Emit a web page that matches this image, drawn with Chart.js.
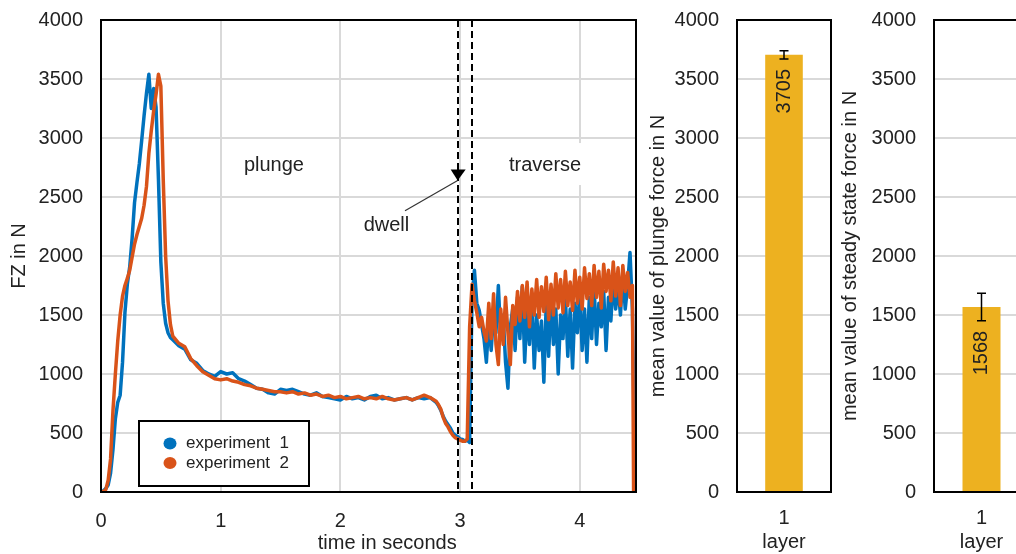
<!DOCTYPE html>
<html>
<head>
<meta charset="utf-8">
<script src="https://cdn.jsdelivr.net/npm/chart.js"></script>
<style>
  html, body { margin: 0; padding: 0; background: #fff; overflow: hidden; width: 1016px; height: 554px; }
  .panel { position: absolute; top: 0; }
</style>
</head>
<body>
<div class="panel" style="left:0px"><canvas id="force-chart" width="650" height="554"></canvas></div>
<div class="panel" style="left:640px"><canvas id="plunge-chart" width="195" height="554"></canvas></div>
<div class="panel" style="left:835px"><canvas id="steady-chart" width="200" height="554"></canvas></div>
<script>
// time axis of both force recordings (s)
const timeSeconds = [
   0, 0.02, 0.04, 0.06, 0.08, 0.1, 0.12, 0.14, 0.16, 0.18, 0.2, 0.22, 0.24, 0.26, 0.28, 0.3,
   0.32, 0.34, 0.36, 0.38, 0.4, 0.42, 0.44, 0.46, 0.48, 0.5, 0.52, 0.54, 0.56, 0.58, 0.6,
   0.65, 0.7, 0.75, 0.8, 0.85, 0.9, 0.95, 1, 1.05, 1.1, 1.15, 1.2, 1.25, 1.3, 1.35, 1.4, 1.45,
   1.5, 1.55, 1.6, 1.65, 1.7, 1.75, 1.8, 1.85, 1.9, 1.95, 2, 2.05, 2.1, 2.15, 2.2, 2.25, 2.3,
   2.35, 2.4, 2.45, 2.5, 2.55, 2.6, 2.65, 2.7, 2.75, 2.8,
   2.82, 2.84, 2.86, 2.88, 2.9, 2.92, 2.94, 2.96, 2.98, 3, 3.02, 3.04, 3.06, 3.08, 3.1, 3.12,
   3.14, 3.16, 3.18, 3.2,
   3.22, 3.24, 3.26, 3.28, 3.3, 3.32, 3.34, 3.36, 3.38, 3.4, 3.42, 3.44, 3.46, 3.48, 3.5, 3.52,
   3.54, 3.56, 3.58, 3.6, 3.62, 3.64, 3.66, 3.68, 3.7, 3.72, 3.74, 3.76, 3.78, 3.8, 3.82, 3.84,
   3.86, 3.88, 3.9, 3.92, 3.94, 3.96, 3.98, 4, 4.02, 4.04, 4.06, 4.08, 4.1, 4.12, 4.14, 4.16,
   4.18, 4.2, 4.22, 4.24, 4.26, 4.28, 4.3, 4.32, 4.34, 4.36, 4.38, 4.4, 4.42, 4.44, 4.45, 4.46
];

// FZ in N, experiment 1
const forceExp1 = [
   0, 10, 30, 60, 160, 360, 620, 760, 820, 1100, 1520, 1760, 1910, 2150, 2450, 2620,
   2780, 2980, 3190, 3380, 3540, 3250, 3420, 3260, 2650, 1950, 1600, 1430, 1350, 1310, 1290,
   1240, 1210, 1120, 1090, 1030, 1000, 980, 1020, 1000, 1010, 960, 940, 910, 880, 870, 840, 830,
   870, 860, 870, 850, 830, 820, 840, 810, 800, 790, 780, 810, 790, 800, 780, 810, 820,
   790, 800, 780, 790, 800, 780, 800, 790, 800, 760,
   730, 690, 640, 600, 570, 540, 500, 480, 470, 450, 445, 430, 440, 420, 1650, 1880,
   1600, 1540, 1420, 1300,
   1100, 1450, 1200, 1500, 1350, 1750, 1300, 1500, 1100, 880, 1400, 1550, 1200, 1650, 1300, 1740,
   1100, 1550, 1250, 1650, 1050, 1500, 1200, 1450, 930, 1600, 1150, 1650, 1250, 1550, 1000, 1500,
   1300, 1650, 1150, 1550, 1050, 1600, 1350, 1700, 1200, 1550, 1100, 1650, 1300, 1750, 1250, 1600,
   1400, 1700, 1200, 1650, 1450, 1800, 1550, 1750, 1500, 1850, 1550, 1750, 2030, 1550, 900, 130
];

// FZ in N, experiment 2
const forceExp2 = [
   0, 5, 20, 100, 280, 690, 1000, 1280, 1500, 1660, 1750, 1810, 1880, 1990, 2100, 2180,
   2250, 2320, 2430, 2590, 2870, 3060, 3230, 3370, 3540, 3440, 2650, 2000, 1620, 1420, 1320,
   1260, 1230, 1130, 1070, 1020, 990, 960, 950, 960, 940, 930, 910, 900, 880, 870, 860, 850,
   850, 840, 850, 830, 840, 820, 830, 810, 820, 800, 810, 790, 800, 810, 790, 800, 790,
   810, 790, 780, 790, 800, 780, 800, 820, 800, 770,
   740, 700, 630, 580, 550, 510, 480, 460, 450, 440, 430, 430, 450, 1400, 1760, 1620,
   1520, 1400, 1480, 1360,
   1280, 1600, 1300, 1680, 1250, 1080, 1550, 1250, 1650, 1350, 1080, 1580, 1420, 1700, 1450, 1750,
   1480, 1780, 1400, 1720, 1500, 1800, 1480, 1740, 1530, 1820, 1460, 1760, 1500, 1850, 1560, 1800,
   1520, 1870, 1580, 1780, 1540, 1880, 1600, 1820, 1550, 1900, 1640, 1850, 1580, 1920, 1650, 1870,
   1560, 1930, 1700, 1880, 1620, 1950, 1660, 1900, 1580, 1920, 1700, 1860, 1650, 1750, 0, 0
];

const seriesNames = ['experiment  1', 'experiment  2'];
const phaseMarks = [2.98, 3.10];   // dwell start / end (s)

const layerLabels = ['1'];
const plungeMean = [3705];
const plungeErr = [35];
const steadyMean = [1568];
const steadyErr = [117];

const FONT = '"Liberation Sans", Arial, sans-serif';
const BLUE = '#0072BD';
const ORANGE = '#D95319';
const BAR = '#EDB120';
const GRID = '#d9d9d9';
const TEXT = '#222';

Chart.defaults.font.family = FONT;
Chart.defaults.font.size = 20;
Chart.defaults.color = TEXT;

function points(values) {
   return timeSeconds.map((t, i) => ({ x: t, y: values[i] }));
}

function plainNumber(value) {
   return String(value);
}

// fixed axis width, no extra room above the plot for the top label
function fixWidth(width) {
   return s => {
      s.width = width;
      s.paddingTop = 0;
      s.paddingBottom = 0;
   };
}

function noteText(ctx, text, px, py, erase) {
   const w = ctx.measureText(text).width;
   if (erase) {
      ctx.fillStyle = '#fff';
      ctx.fillRect(px - w / 2 - 6, py - 28, w + 12, 42);
   }
   ctx.fillStyle = TEXT;
   ctx.fillText(text, px, py);
}

const forceDecor = {
   id: 'forceDecor',
   beforeDatasetsDraw(chart) {
      const { ctx, scales: { x, y } } = chart;
      ctx.save();
      ctx.font = '20px ' + FONT;
      ctx.textAlign = 'center';
      ctx.textBaseline = 'alphabetic';
      noteText(ctx, 'plunge', x.getPixelForValue(1.445), y.getPixelForValue(2720), true);
      noteText(ctx, 'traverse', x.getPixelForValue(3.71), y.getPixelForValue(2720), true);
      ctx.restore();
   },
   afterDatasetsDraw(chart) {
      const { ctx, chartArea, scales: { x, y } } = chart;
      ctx.save();

      // dashed lines around the dwell phase
      ctx.strokeStyle = '#000';
      ctx.lineWidth = 2;
      ctx.setLineDash([7, 4]);
      for (const t of phaseMarks) {
         const px = Math.round(x.getPixelForValue(t));
         ctx.beginPath();
         ctx.moveTo(px, chartArea.top);
         ctx.lineTo(px, chartArea.bottom);
         ctx.stroke();
      }
      ctx.setLineDash([]);

      // arrow "dwell"
      const ax0 = x.getPixelForValue(2.54), ay0 = y.getPixelForValue(2384);
      const ax1 = x.getPixelForValue(phaseMarks[0]), ay1 = y.getPixelForValue(2640);
      ctx.strokeStyle = '#333';
      ctx.lineWidth = 1.2;
      ctx.beginPath();
      ctx.moveTo(ax0, ay0);
      ctx.lineTo(ax1, ay1);
      ctx.stroke();
      ctx.fillStyle = '#000';
      ctx.beginPath();
      ctx.moveTo(ax1, ay1);
      ctx.lineTo(ax1 - 7, ay1 - 11);
      ctx.lineTo(ax1 + 8, ay1 - 11);
      ctx.closePath();
      ctx.fill();

      ctx.font = '20px ' + FONT;
      ctx.textAlign = 'center';
      ctx.textBaseline = 'alphabetic';
      noteText(ctx, 'dwell', x.getPixelForValue(2.385), y.getPixelForValue(2214), false);

      // legend box
      const lx = chartArea.left + 38, ly = chartArea.bottom - 71;
      ctx.fillStyle = '#fff';
      ctx.fillRect(lx, ly, 170, 65);
      ctx.strokeStyle = '#000';
      ctx.lineWidth = 2;
      ctx.strokeRect(lx, ly, 170, 65);
      ctx.font = '17px ' + FONT;
      ctx.textAlign = 'left';
      ctx.textBaseline = 'middle';
      chart.data.datasets.forEach((ds, i) => {
         const cy = ly + 22.5 + i * 19.5;
         ctx.fillStyle = ds.borderColor;
         ctx.beginPath();
         ctx.ellipse(lx + 31, cy, 6.5, 6, 0, 0, 2 * Math.PI);
         ctx.fill();
         ctx.fillStyle = TEXT;
         ctx.fillText(ds.label, lx + 47, cy);
      });

      // frame
      ctx.lineWidth = 2;
      ctx.strokeStyle = '#000';
      ctx.strokeRect(chartArea.left, chartArea.top, chartArea.right - chartArea.left, chartArea.bottom - chartArea.top);
      ctx.restore();
   },
   afterDraw(chart) {
      const { ctx, chartArea } = chart;
      ctx.save();
      ctx.font = '20px ' + FONT;
      ctx.fillStyle = TEXT;
      ctx.textAlign = 'center';
      ctx.textBaseline = 'middle';
      ctx.fillText('time in seconds', chartArea.left + 0.535 * (chartArea.right - chartArea.left), chartArea.bottom + 51);
      ctx.restore();
   }
};

new Chart(document.getElementById('force-chart'), {
   type: 'line',
   data: {
      datasets: [{
         label: seriesNames[0],
         data: points(forceExp1),
         borderColor: BLUE,
         order: 1
      }, {
         label: seriesNames[1],
         data: points(forceExp2),
         borderColor: ORANGE,
         order: 0
      }]
   },
   options: {
      responsive: false,
      animation: false,
      devicePixelRatio: 1,
      layout: { padding: { top: 20, right: 14, left: 0, bottom: 0 } },
      elements: {
         point: { radius: 0 },
         line: { borderWidth: 3.5, tension: 0, fill: false, borderJoinStyle: 'round', borderCapStyle: 'round' }
      },
      plugins: { legend: { display: false }, tooltip: { enabled: false } },
      scales: {
         x: {
            type: 'linear',
            min: 0,
            max: 4.47,
            ticks: { stepSize: 1, includeBounds: false, padding: 17, callback: plainNumber },
            grid: { color: GRID, lineWidth: 2, drawTicks: false },
            border: { display: false },
            afterFit: s => { s.height = 62; }
         },
         y: {
            min: 0,
            max: 4000,
            ticks: { stepSize: 500, padding: 18, callback: plainNumber },
            grid: { color: GRID, lineWidth: 2, drawTicks: false },
            border: { display: false },
            title: { display: true, text: 'FZ in N', padding: { top: 7, bottom: 0 } },
            afterFit: fixWidth(101)
         }
      }
   },
   plugins: [forceDecor]
});

// error bars, rotated value labels and frame for the bar panels
const barDecor = {
   id: 'barDecor',
   afterDatasetsDraw(chart, args, opts) {
      const { ctx, chartArea, scales: { y } } = chart;
      const values = chart.data.datasets[0].data;
      ctx.save();
      chart.getDatasetMeta(0).data.forEach((bar, i) => {
         const hi = y.getPixelForValue(values[i] + opts.errors[i]);
         const lo = y.getPixelForValue(values[i] - opts.errors[i]);
         ctx.strokeStyle = '#000';
         ctx.lineWidth = 1.5;
         ctx.beginPath();
         ctx.moveTo(bar.x, hi);
         ctx.lineTo(bar.x, lo);
         ctx.moveTo(bar.x - 4.5, hi);
         ctx.lineTo(bar.x + 4.5, hi);
         ctx.moveTo(bar.x - 4.5, lo);
         ctx.lineTo(bar.x + 4.5, lo);
         ctx.stroke();

         ctx.save();
         ctx.translate(bar.x, lo + 10);
         ctx.rotate(-Math.PI / 2);
         ctx.font = '20px ' + FONT;
         ctx.fillStyle = TEXT;
         ctx.textAlign = 'right';
         ctx.textBaseline = 'middle';
         ctx.fillText(String(values[i]), 0, 0);
         ctx.restore();
      });
      ctx.lineWidth = 2;
      ctx.strokeStyle = '#000';
      ctx.strokeRect(chartArea.left, chartArea.top, chartArea.right - chartArea.left, chartArea.bottom - chartArea.top);
      ctx.restore();
   }
};

function barChart(id, values, errors, title, axisWidth, titlePad, rightPad) {
   return new Chart(document.getElementById(id), {
      type: 'bar',
      data: {
         labels: layerLabels,
         datasets: [{
            data: values,
            backgroundColor: BAR,
            categoryPercentage: 0.4,
            barPercentage: 1
         }]
      },
      options: {
         responsive: false,
         animation: false,
         devicePixelRatio: 1,
         layout: { padding: { top: 20, right: rightPad, left: 0, bottom: 0 } },
         plugins: { legend: { display: false }, tooltip: { enabled: false }, barDecor: { errors: errors } },
         scales: {
            x: {
               grid: { display: false },
               border: { display: false },
               ticks: { padding: 6 },
               title: { display: true, text: 'layer', padding: 0 },
               afterFit: s => { s.height = 62; }
            },
            y: {
               min: 0,
               max: 4000,
               ticks: { stepSize: 500, padding: 18, callback: plainNumber },
               grid: { color: GRID, lineWidth: 2, drawTicks: false },
               border: { display: false },
               title: { display: true, text: title, padding: { top: titlePad, bottom: 0 } },
               afterFit: fixWidth(axisWidth)
            }
         }
      },
      plugins: [barDecor]
   });
}

barChart('plunge-chart', plungeMean, plungeErr, 'mean value of plunge force in N', 97, 6, 4);
barChart('steady-chart', steadyMean, steadyErr, 'mean value of steady state force in N', 99, 3, 6);
</script>
</body>
</html>
